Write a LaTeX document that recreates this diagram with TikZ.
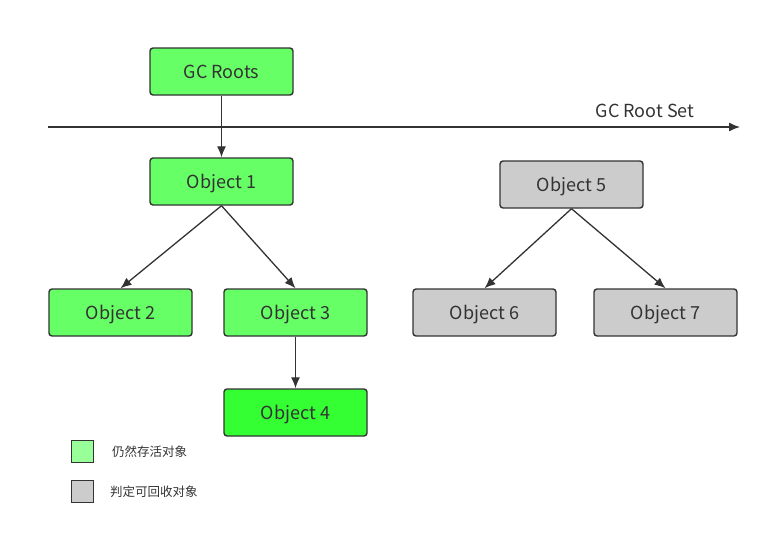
\documentclass[tikz,border=0pt]{standalone}
\usepackage{fontspec}
\setmainfont{Noto Sans CJK SC}
\usepackage{tikz}
\usetikzlibrary{arrows.meta,shapes}
\definecolor{alivegreen}{HTML}{66FF66}
\definecolor{brightgreen}{HTML}{33FF33}
\definecolor{legendgreen}{HTML}{99FF99}
\definecolor{deadgray}{HTML}{CCCCCC}
\definecolor{ink}{HTML}{333333}
\tikzstyle{object}=[rectangle,rounded corners=3pt,draw=ink,line width=1.4pt,minimum width=143pt,minimum height=47pt,inner sep=0pt,text depth=0pt,text=ink,font=\fontsize{18}{20}\selectfont]
\tikzstyle{alive}=[object,fill=alivegreen]
\tikzstyle{dead}=[object,fill=deadgray]
\tikzstyle{legendbox}=[rectangle,draw=ink,line width=1.4pt,minimum size=22pt,inner sep=0pt]
\tikzstyle{legendtext}=[anchor=west,inner sep=0pt,text=ink,font=\fontsize{12.5}{14}\selectfont]

\begin{document}
\begin{tikzpicture}[x=1pt,y=-1pt]
      \tikzset{edge/.style = {draw=ink,line width=1.3pt,-{Latex[length=11pt,width=9pt]}}}
      \useasboundingbox (0,0) rectangle (769,544);
      \node[alive] (roots) at (221.5,71.5) {GC Roots};
      \node[alive] (o1) at (221.5,181.5) {Object 1};
      \node[alive] (o2) at (120.5,312.5) {Object 2};
      \node[alive] (o3) at (295.5,312.5) {Object 3};
      \node[alive,fill=brightgreen] (o4) at (295.5,412.5) {Object 4};
      \node[dead] (o5) at (571.5,184.5) {Object 5};
      \node[dead] (o6) at (484.5,312.5) {Object 6};
      \node[dead] (o7) at (665.5,312.5) {Object 7};
      \coordinate (setstart) at (48,127);
      \coordinate (setend) at (740,127);
      \draw[edge] (setstart) -- (setend);
      \node[anchor=south,inner sep=0pt,text=ink,font=\fontsize{18}{20}\selectfont] (setlabel) at (645,118) {GC Root Set};
      \draw[edge] (roots) to (o1);
      \draw[edge] (o1.south) to (o2.north);
      \draw[edge] (o1.south) to (o3.north);
      \draw[edge] (o3) to (o4);
      \draw[edge] (o5.south) to (o6.north);
      \draw[edge] (o5.south) to (o7.north);
      \node[legendbox,fill=legendgreen] (keyalive) at (82.5,451.5) {};
      \node[legendbox,fill=deadgray] (keydead) at (82.5,491.5) {};
      \node[legendtext] (keyalivetext) at (112,451.5) {仍然存活对象};
      \node[legendtext] (keydeadtext) at (110,491.5) {判定可回收对象};
    \end{tikzpicture}
\end{document}
